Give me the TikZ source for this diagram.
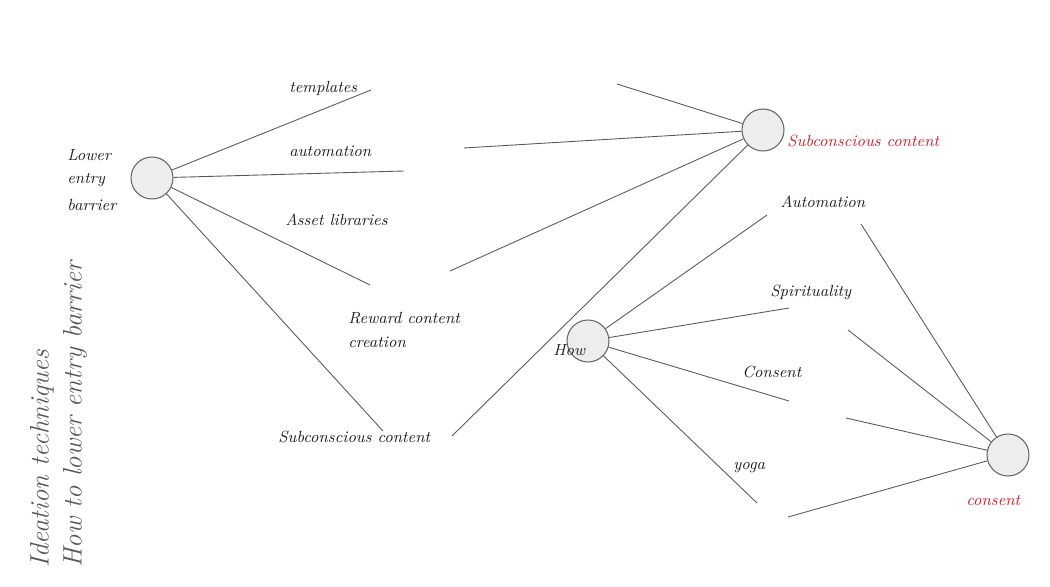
\documentclass[tikz,border=0pt]{standalone}
\begin{document}
\begin{tikzpicture}[x=0.02cm,y=-0.02cm,
  hub/.style={circle,draw=black!60,fill=black!7,line width=0.6pt,minimum size=0.84cm,inner sep=0pt},
  link/.style={draw=black!65,line width=0.5pt},
  lbl/.style={font=\itshape\fontsize{9.2}{11}\selectfont,text=black!88,inner sep=0pt,anchor=west},
  redlbl/.style={lbl,text={rgb,255:red,210;green,30;blue,45}},
  title/.style={font=\itshape\fontsize{15.2}{17}\selectfont,text=black!65,inner sep=0pt,rotate=90,anchor=west}]
\useasboundingbox (0,0) rectangle (1050,587);
% hubs
\node[hub] (A) at (152,178) {};
\node[hub] (B) at (763,130) {};
\node[hub] (C) at (588,341) {};
\node[hub] (D) at (1008,455) {};
% free ends
\coordinate (a1) at (371,90);
\coordinate (a2) at (404,171);
\coordinate (a3) at (370,285);
\coordinate (a4) at (383,431);
\coordinate (b1) at (617,84);
\coordinate (b2) at (464,148);
\coordinate (b3) at (450,271);
\coordinate (b4) at (452,436);
\coordinate (c1) at (767,215);
\coordinate (c2) at (789,308);
\coordinate (c3) at (789,401);
\coordinate (c4) at (757,503);
\coordinate (d1) at (861,224);
\coordinate (d2) at (848,330);
\coordinate (d3) at (846,418);
\coordinate (d4) at (788,517);
% connectors
\foreach \e in {a1,a2,a3,a4} \draw[link] (A) -- (\e);
\foreach \e in {b1,b2,b3,b4} \draw[link] (B) -- (\e);
\foreach \e in {c1,c2,c3,c4} \draw[link] (C) -- (\e);
\foreach \e in {d1,d2,d3,d4} \draw[link] (D) -- (\e);
% labels
\node[lbl] (lA1) at (67,155) {Lower};
\node[lbl] (lA2) at (67,180) {entry};
\node[lbl] (lA3) at (67,205) {barrier};
\node[lbl] (t1) at (289,88) {templates};
\node[lbl] (t2) at (289,151) {automation};
\node[lbl] (t3) at (285,220) {Asset libraries};
\node[lbl] (t4) at (348,318) {Reward content};
\node[lbl] (t4b) at (348,342) {creation};
\node[lbl] (t5) at (278,437) {Subconscious content};
\node[redlbl] (lB) at (787,141) {Subconscious content};
\node[lbl] (lC) at (553,350) {How};
\node[lbl] (u1) at (780,202) {Automation};
\node[lbl] (u2) at (770,292) {Spirituality};
\node[lbl] (u3) at (742,372) {Consent};
\node[lbl] (u4) at (733,468) {yoga};
\node[redlbl] (lD) at (966,501) {consent};
\node[title] (ti1) at (42,568) {Ideation techniques};
\node[title] (ti2) at (75,568) {How to lower entry barrier};
\end{tikzpicture}
\end{document}
